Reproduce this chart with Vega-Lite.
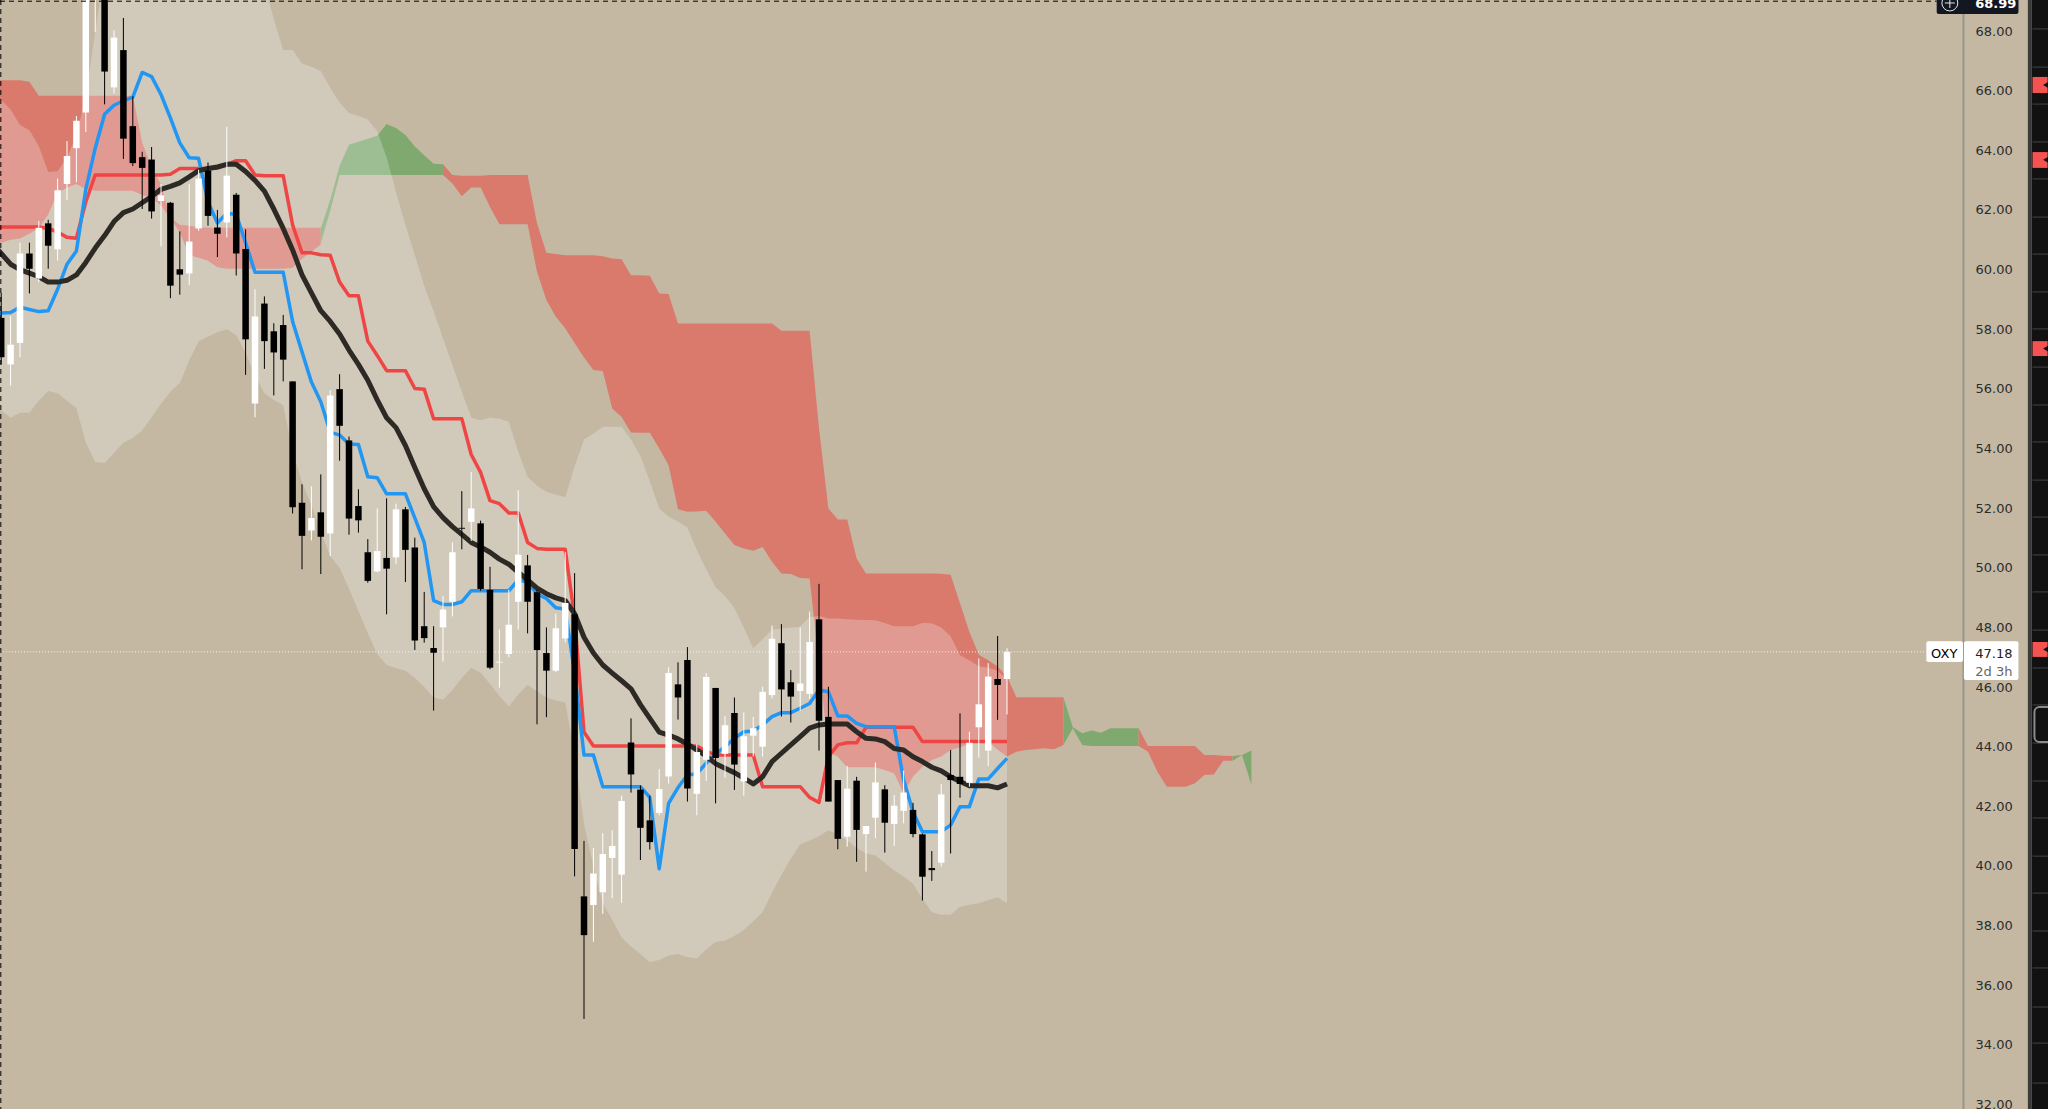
{"$schema":"https://vega.github.io/schema/vega-lite/v6.json","width":1963,"height":1109,"autosize":{"type":"none"},"padding":{"left":0,"top":0,"right":85,"bottom":0},"background":"#c4b8a3","config":{"view":{"stroke":null},"scale":{"continuousPadding":0}},
"resolve":{"axis":{"y":"independent"}},
"datasets":{
"bars":[
{"bar":-3,"open":null,"high":null,"low":null,"close":null,"dir":"down","tenkan":58.5,"kijun":61.43,"ma":60.9,"upper":65.9,"lower":55.4},
{"bar":-2,"dir":"down","open":58.38,"high":59.22,"low":56.82,"close":57.06,"tenkan":58.54,"kijun":61.43,"ma":60.54,"upper":65.69,"lower":55.27},
{"bar":-1,"dir":"up","open":56.82,"high":58.44,"low":56.11,"close":57.48,"tenkan":58.56,"kijun":61.43,"ma":60.18,"upper":65.37,"lower":55.03},
{"bar":0,"dir":"up","open":57.54,"high":60.9,"low":57.06,"close":60.54,"tenkan":58.74,"kijun":61.43,"ma":60.0,"upper":64.85,"lower":55.2},
{"bar":1,"dir":"down","open":60.54,"high":60.9,"low":59.2,"close":60.03,"tenkan":58.66,"kijun":61.43,"ma":59.88,"upper":64.67,"lower":55.2},
{"bar":2,"dir":"up","open":59.7,"high":61.63,"low":59.58,"close":61.4,"tenkan":58.59,"kijun":61.43,"ma":59.76,"upper":64.14,"lower":55.6},
{"bar":3,"dir":"down","open":61.55,"high":61.67,"low":60.03,"close":60.8,"tenkan":58.62,"kijun":61.38,"ma":59.58,"upper":63.27,"lower":55.93},
{"bar":4,"dir":"up","open":60.68,"high":63.05,"low":60.3,"close":62.66,"tenkan":59.34,"kijun":61.26,"ma":59.58,"upper":63.3,"lower":55.85},
{"bar":5,"dir":"up","open":62.87,"high":64.31,"low":62.33,"close":63.81,"tenkan":60.18,"kijun":61.08,"ma":59.64,"upper":63.77,"lower":55.6},
{"bar":6,"dir":"up","open":64.07,"high":65.15,"low":62.93,"close":64.99,"tenkan":60.62,"kijun":61.05,"ma":59.82,"upper":64.5,"lower":55.35},
{"bar":7,"dir":"up","open":65.27,"high":71,"low":64.61,"close":70,"tenkan":62.69,"kijun":62.27,"ma":60.24,"upper":65.8,"lower":54.2},
{"bar":8,"dir":"up","open":69.3,"high":70.8,"low":67.96,"close":70.3,"tenkan":64.07,"kijun":63.17,"ma":60.72,"upper":67.96,"lower":53.55},
{"bar":9,"dir":"down","open":70.3,"high":71,"low":65.54,"close":66.64,"tenkan":65.21,"kijun":63.17,"ma":61.14,"upper":70,"lower":53.51},
{"bar":10,"dir":"up","open":66.11,"high":68.02,"low":65.9,"close":67.78,"tenkan":65.51,"kijun":63.17,"ma":61.61,"upper":71,"lower":53.85},
{"bar":11,"dir":"down","open":67.36,"high":68.44,"low":63.71,"close":64.39,"tenkan":65.66,"kijun":63.17,"ma":61.91,"upper":72,"lower":54.19},
{"bar":12,"dir":"down","open":64.81,"high":65.81,"low":63.47,"close":63.57,"tenkan":65.78,"kijun":63.17,"ma":62.03,"upper":72,"lower":54.35},
{"bar":13,"dir":"down","open":63.77,"high":63.95,"low":62.03,"close":63.41,"tenkan":66.61,"kijun":63.17,"ma":62.24,"upper":72,"lower":54.6},
{"bar":14,"dir":"down","open":63.69,"high":64.11,"low":61.71,"close":61.95,"tenkan":66.47,"kijun":63.17,"ma":62.45,"upper":72,"lower":55.05},
{"bar":15,"dir":"up","open":62.3,"high":62.87,"low":60.78,"close":62.49,"tenkan":65.87,"kijun":63.17,"ma":62.69,"upper":72,"lower":55.5},
{"bar":16,"dir":"down","open":62.24,"high":62.27,"low":59.04,"close":59.46,"tenkan":65.09,"kijun":63.2,"ma":62.79,"upper":72,"lower":55.9},
{"bar":17,"dir":"down","open":60.01,"high":61.28,"low":59.16,"close":59.83,"tenkan":64.25,"kijun":63.39,"ma":62.91,"upper":72,"lower":56.2},
{"bar":18,"dir":"up","open":59.87,"high":62.87,"low":59.48,"close":60.94,"tenkan":63.75,"kijun":63.39,"ma":63.11,"upper":72,"lower":56.95},
{"bar":19,"dir":"up","open":61.38,"high":63.35,"low":61.3,"close":63.05,"tenkan":63.73,"kijun":63.39,"ma":63.32,"upper":72,"lower":57.6},
{"bar":20,"dir":"down","open":63.32,"high":63.59,"low":61.47,"close":61.8,"tenkan":62.27,"kijun":63.39,"ma":63.39,"upper":72,"lower":57.75},
{"bar":21,"dir":"down","open":61.41,"high":62,"low":60.42,"close":61.2,"tenkan":61.56,"kijun":63.41,"ma":63.44,"upper":72,"lower":57.9},
{"bar":22,"dir":"up","open":61.58,"high":64.79,"low":61.08,"close":63.15,"tenkan":61.89,"kijun":63.53,"ma":63.53,"upper":72,"lower":58},
{"bar":23,"dir":"down","open":62.51,"high":62.57,"low":59.8,"close":60.54,"tenkan":61.85,"kijun":63.65,"ma":63.53,"upper":72,"lower":57.8},
{"bar":24,"dir":"down","open":60.69,"high":61.35,"low":56.47,"close":57.66,"tenkan":60.9,"kijun":63.65,"ma":63.29,"upper":72,"lower":57.2},
{"bar":25,"dir":"up","open":55.51,"high":59.34,"low":55.05,"close":58.43,"tenkan":59.91,"kijun":63.17,"ma":62.99,"upper":72,"lower":56.45},
{"bar":26,"dir":"down","open":58.86,"high":59.1,"low":56.67,"close":57.6,"tenkan":59.91,"kijun":63.15,"ma":62.63,"upper":69.6,"lower":55.85},
{"bar":27,"dir":"down","open":57.93,"high":58.2,"low":55.78,"close":57.22,"tenkan":59.91,"kijun":63.15,"ma":62.03,"upper":68.4,"lower":55.63},
{"bar":28,"dir":"down","open":58.14,"high":58.48,"low":56.25,"close":56.98,"tenkan":59.91,"kijun":63.15,"ma":61.38,"upper":67.36,"lower":55.45},
{"bar":29,"dir":"down","open":56.25,"high":56.25,"low":51.82,"close":52.03,"tenkan":58.26,"kijun":61.5,"ma":60.66,"upper":67.36,"lower":53.9},
{"bar":30,"dir":"down","open":52.18,"high":52.8,"low":49.95,"close":51.07,"tenkan":57.24,"kijun":60.56,"ma":59.82,"upper":66.91,"lower":52.87},
{"bar":31,"dir":"up","open":51.25,"high":52.73,"low":50.92,"close":51.67,"tenkan":56.23,"kijun":60.56,"ma":59.22,"upper":66.8,"lower":52.1},
{"bar":32,"dir":"down","open":51.86,"high":53.13,"low":49.79,"close":51.04,"tenkan":55.57,"kijun":60.5,"ma":58.62,"upper":66.66,"lower":51.2},
{"bar":33,"dir":"up","open":51.15,"high":55.95,"low":50.39,"close":55.78,"tenkan":54.55,"kijun":60.48,"ma":58.26,"upper":66.1,"lower":50.39},
{"bar":34,"dir":"down","open":55.99,"high":56.49,"low":53.59,"close":54.76,"tenkan":54.45,"kijun":59.58,"ma":57.84,"upper":65.6,"lower":50.0},
{"bar":35,"dir":"down","open":54.27,"high":54.4,"low":51.11,"close":51.65,"tenkan":54.15,"kijun":59.12,"ma":57.3,"upper":65.25,"lower":49.3},
{"bar":36,"dir":"down","open":52.07,"high":52.63,"low":51.18,"close":51.59,"tenkan":54.13,"kijun":59.12,"ma":56.82,"upper":65.15,"lower":48.55},
{"bar":37,"dir":"down","open":50.52,"high":50.96,"low":49.5,"close":49.56,"tenkan":53.05,"kijun":57.6,"ma":56.29,"upper":65.03,"lower":47.8},
{"bar":38,"dir":"up","open":49.88,"high":51.99,"low":49.85,"close":50.56,"tenkan":53.02,"kijun":57.12,"ma":55.63,"upper":64.65,"lower":47.1},
{"bar":39,"dir":"down","open":50.33,"high":52.33,"low":48.44,"close":49.97,"tenkan":52.48,"kijun":56.61,"ma":55.03,"upper":63.77,"lower":46.74},
{"bar":40,"dir":"up","open":50.35,"high":52.15,"low":50.12,"close":51.96,"tenkan":52.48,"kijun":56.61,"ma":54.7,"upper":62.6,"lower":46.63},
{"bar":41,"dir":"down","open":51.96,"high":52.04,"low":49.52,"close":50.6,"tenkan":52.48,"kijun":56.61,"ma":54.1,"upper":61.5,"lower":46.55},
{"bar":42,"dir":"down","open":50.68,"high":51.01,"low":47.24,"close":47.56,"tenkan":51.67,"kijun":56.01,"ma":53.36,"upper":60.5,"lower":46.3},
{"bar":43,"dir":"down","open":48.04,"high":49.19,"low":47.49,"close":47.64,"tenkan":50.85,"kijun":55.99,"ma":52.65,"upper":59.46,"lower":46.0},
{"bar":44,"dir":"down","open":47.31,"high":48.04,"low":45.21,"close":47.15,"tenkan":48.9,"kijun":55.0,"ma":52.05,"upper":58.6,"lower":45.65},
{"bar":45,"dir":"up","open":48.0,"high":49.06,"low":46.85,"close":48.6,"tenkan":48.77,"kijun":55.0,"ma":51.68,"upper":57.7,"lower":45.57},
{"bar":46,"dir":"up","open":48.86,"high":50.85,"low":48.37,"close":50.52,"tenkan":48.77,"kijun":55.0,"ma":51.38,"upper":56.8,"lower":45.9},
{"bar":47,"dir":"down","open":51.34,"high":52.57,"low":50.62,"close":51.31,"tenkan":48.86,"kijun":55.0,"ma":51.12,"upper":55.9,"lower":46.3},
{"bar":48,"dir":"up","open":51.54,"high":53.21,"low":50.9,"close":51.99,"tenkan":49.23,"kijun":53.8,"ma":50.85,"upper":55.04,"lower":46.65},
{"bar":49,"dir":"down","open":51.49,"high":51.58,"low":49.23,"close":49.29,"tenkan":49.23,"kijun":53.2,"ma":50.7,"upper":54.95,"lower":46.48},
{"bar":50,"dir":"down","open":49.26,"high":50.03,"low":46.6,"close":46.65,"tenkan":49.23,"kijun":52.25,"ma":50.52,"upper":55.04,"lower":46.1},
{"bar":51,"dir":"up","open":46.82,"high":47.93,"low":45.98,"close":46.85,"tenkan":49.23,"kijun":52.15,"ma":50.29,"upper":55.0,"lower":45.7},
{"bar":52,"dir":"up","open":47.11,"high":49.26,"low":47.0,"close":48.09,"tenkan":49.23,"kijun":51.84,"ma":50.12,"upper":54.9,"lower":45.35},
{"bar":53,"dir":"up","open":48.86,"high":52.6,"low":47.93,"close":50.44,"tenkan":49.59,"kijun":51.84,"ma":49.85,"upper":53.9,"lower":45.75},
{"bar":54,"dir":"down","open":50.08,"high":50.43,"low":47.8,"close":48.86,"tenkan":49.52,"kijun":50.85,"ma":49.59,"upper":53.05,"lower":46.08},
{"bar":55,"dir":"down","open":49.18,"high":49.26,"low":44.75,"close":47.24,"tenkan":49.12,"kijun":50.65,"ma":49.32,"upper":52.75,"lower":45.85},
{"bar":56,"dir":"down","open":47.14,"high":48.0,"low":44.99,"close":46.55,"tenkan":48.97,"kijun":50.62,"ma":49.13,"upper":52.55,"lower":45.65},
{"bar":57,"dir":"up","open":46.55,"high":48.46,"low":46.5,"close":47.97,"tenkan":48.66,"kijun":50.62,"ma":48.99,"upper":52.45,"lower":45.55},
{"bar":58,"dir":"up","open":47.63,"high":50.52,"low":47.5,"close":48.82,"tenkan":48.62,"kijun":50.62,"ma":48.9,"upper":52.37,"lower":45.48},
{"bar":59,"dir":"down","open":48.44,"high":49.82,"low":39.65,"close":40.57,"tenkan":46.47,"kijun":48.33,"ma":48.46,"upper":53.4,"lower":43.8},
{"bar":60,"dir":"down","open":38.98,"high":40.84,"low":34.87,"close":37.68,"tenkan":43.72,"kijun":44.49,"ma":47.67,"upper":54.3,"lower":41.4},
{"bar":61,"dir":"up","open":38.69,"high":40.61,"low":37.46,"close":39.75,"tenkan":43.72,"kijun":44.02,"ma":47.14,"upper":54.5,"lower":40.0},
{"bar":62,"dir":"up","open":39.12,"high":41.1,"low":38.39,"close":40.4,"tenkan":42.66,"kijun":44.02,"ma":46.74,"upper":54.73,"lower":38.75},
{"bar":63,"dir":"up","open":40.27,"high":41.2,"low":38.92,"close":40.67,"tenkan":42.66,"kijun":44.02,"ma":46.47,"upper":54.73,"lower":38.2},
{"bar":64,"dir":"up","open":39.71,"high":42.36,"low":38.76,"close":42.18,"tenkan":42.66,"kijun":44.02,"ma":46.21,"upper":54.73,"lower":37.6},
{"bar":65,"dir":"down","open":44.14,"high":44.95,"low":42.46,"close":43.07,"tenkan":42.66,"kijun":44.02,"ma":45.94,"upper":54.3,"lower":37.3},
{"bar":66,"dir":"down","open":42.56,"high":42.7,"low":40.2,"close":41.28,"tenkan":42.66,"kijun":44.02,"ma":45.41,"upper":53.75,"lower":37.05},
{"bar":67,"dir":"down","open":41.53,"high":42.36,"low":40.55,"close":40.8,"tenkan":42.3,"kijun":44.02,"ma":44.95,"upper":52.9,"lower":36.77},
{"bar":68,"dir":"up","open":41.78,"high":43.25,"low":41.7,"close":42.58,"tenkan":39.91,"kijun":44.02,"ma":44.49,"upper":52.0,"lower":36.85},
{"bar":69,"dir":"up","open":43.0,"high":46.67,"low":42.76,"close":46.47,"tenkan":42.1,"kijun":44.02,"ma":44.39,"upper":51.72,"lower":37.0},
{"bar":70,"dir":"down","open":46.09,"high":46.83,"low":44.91,"close":45.65,"tenkan":42.63,"kijun":44.02,"ma":44.26,"upper":51.55,"lower":37.05},
{"bar":71,"dir":"down","open":46.91,"high":47.34,"low":42.16,"close":42.6,"tenkan":43.05,"kijun":44.02,"ma":44.09,"upper":51.35,"lower":36.95},
{"bar":72,"dir":"up","open":42.42,"high":44.09,"low":41.7,"close":43.82,"tenkan":43.09,"kijun":44.02,"ma":43.89,"upper":50.6,"lower":36.9},
{"bar":73,"dir":"up","open":43.56,"high":46.47,"low":42.85,"close":46.34,"tenkan":43.45,"kijun":43.85,"ma":43.69,"upper":49.95,"lower":37.2},
{"bar":74,"dir":"down","open":45.97,"high":45.97,"low":42.1,"close":43.62,"tenkan":43.75,"kijun":43.72,"ma":43.43,"upper":49.35,"lower":37.45},
{"bar":75,"dir":"up","open":43.76,"high":45.02,"low":42.96,"close":44.72,"tenkan":44.0,"kijun":43.72,"ma":43.28,"upper":49.05,"lower":37.5},
{"bar":76,"dir":"down","open":45.13,"high":45.65,"low":42.55,"close":43.4,"tenkan":44.28,"kijun":43.72,"ma":43.13,"upper":48.65,"lower":37.65},
{"bar":77,"dir":"up","open":42.83,"high":45.15,"low":42.36,"close":44.35,"tenkan":44.5,"kijun":43.72,"ma":42.95,"upper":48.0,"lower":37.85},
{"bar":78,"dir":"up","open":44.37,"high":45.0,"low":43.67,"close":44.62,"tenkan":44.53,"kijun":43.72,"ma":42.75,"upper":47.3,"lower":38.15},
{"bar":79,"dir":"up","open":44.0,"high":46.01,"low":43.67,"close":45.84,"tenkan":44.73,"kijun":42.66,"ma":42.99,"upper":47.6,"lower":38.45},
{"bar":80,"dir":"up","open":45.73,"high":48.06,"low":45.62,"close":47.62,"tenkan":45.01,"kijun":42.66,"ma":43.5,"upper":47.93,"lower":39.1},
{"bar":81,"dir":"down","open":47.47,"high":48.11,"low":45.01,"close":45.92,"tenkan":45.14,"kijun":42.66,"ma":43.78,"upper":47.96,"lower":39.7},
{"bar":82,"dir":"down","open":46.16,"high":46.57,"low":44.81,"close":45.68,"tenkan":45.14,"kijun":42.66,"ma":44.06,"upper":48.0,"lower":40.25},
{"bar":83,"dir":"up","open":45.87,"high":48.0,"low":45.2,"close":46.12,"tenkan":45.29,"kijun":42.66,"ma":44.34,"upper":48.02,"lower":40.72},
{"bar":84,"dir":"up","open":45.77,"high":48.53,"low":45.6,"close":47.51,"tenkan":45.45,"kijun":42.3,"ma":44.62,"upper":48.35,"lower":40.85},
{"bar":85,"dir":"down","open":48.27,"high":49.46,"low":43.87,"close":44.87,"tenkan":45.9,"kijun":42.13,"ma":44.73,"upper":48.38,"lower":41.0},
{"bar":86,"dir":"down","open":45.0,"high":46.01,"low":42.16,"close":42.16,"tenkan":45.84,"kijun":43.67,"ma":44.76,"upper":48.3,"lower":41.2},
{"bar":87,"dir":"down","open":42.88,"high":42.88,"low":40.56,"close":40.91,"tenkan":45.03,"kijun":44.06,"ma":44.76,"upper":48.3,"lower":41.05},
{"bar":88,"dir":"up","open":40.98,"high":43.35,"low":40.65,"close":42.59,"tenkan":45.03,"kijun":44.13,"ma":44.76,"upper":48.27,"lower":40.85},
{"bar":89,"dir":"down","open":42.86,"high":42.99,"low":40.14,"close":41.21,"tenkan":44.78,"kijun":44.13,"ma":44.5,"upper":48.26,"lower":40.6},
{"bar":90,"dir":"up","open":41.07,"high":41.34,"low":39.81,"close":41.34,"tenkan":44.67,"kijun":44.65,"ma":44.28,"upper":48.25,"lower":40.42},
{"bar":91,"dir":"up","open":41.62,"high":43.47,"low":40.93,"close":42.8,"tenkan":44.67,"kijun":44.65,"ma":44.26,"upper":48.24,"lower":40.35},
{"bar":92,"dir":"down","open":42.57,"high":42.71,"low":40.45,"close":41.45,"tenkan":44.67,"kijun":44.65,"ma":44.17,"upper":48.15,"lower":40.1},
{"bar":93,"dir":"up","open":41.41,"high":42.38,"low":40.67,"close":42.02,"tenkan":44.67,"kijun":44.65,"ma":43.94,"upper":48.04,"lower":39.85},
{"bar":94,"dir":"up","open":41.85,"high":43.2,"low":41.43,"close":42.46,"tenkan":42.88,"kijun":44.65,"ma":43.89,"upper":48.04,"lower":39.65},
{"bar":95,"dir":"down","open":41.88,"high":42.12,"low":40.96,"close":41.07,"tenkan":41.82,"kijun":44.65,"ma":43.66,"upper":48.04,"lower":39.4},
{"bar":96,"dir":"down","open":41.06,"high":41.09,"low":38.84,"close":39.64,"tenkan":41.15,"kijun":44.17,"ma":43.5,"upper":48.15,"lower":38.9},
{"bar":97,"dir":"down","open":39.93,"high":40.5,"low":39.5,"close":39.86,"tenkan":41.15,"kijun":44.17,"ma":43.31,"upper":48.14,"lower":38.45},
{"bar":98,"dir":"up","open":40.11,"high":42.75,"low":39.98,"close":42.4,"tenkan":41.15,"kijun":44.17,"ma":43.19,"upper":48.0,"lower":38.36},
{"bar":99,"dir":"down","open":43.05,"high":43.89,"low":40.42,"close":42.88,"tenkan":41.37,"kijun":44.17,"ma":42.99,"upper":47.7,"lower":38.36},
{"bar":100,"dir":"down","open":42.99,"high":45.12,"low":42.29,"close":42.75,"tenkan":41.99,"kijun":44.17,"ma":42.83,"upper":47.07,"lower":38.63},
{"bar":101,"dir":"up","open":42.79,"high":44.5,"low":42.66,"close":44.13,"tenkan":41.99,"kijun":44.17,"ma":42.69,"upper":46.9,"lower":38.7},
{"bar":102,"dir":"up","open":44.65,"high":46.96,"low":43.63,"close":45.42,"tenkan":42.92,"kijun":44.17,"ma":42.69,"upper":46.7,"lower":38.75},
{"bar":103,"dir":"up","open":43.87,"high":46.8,"low":43.35,"close":46.35,"tenkan":42.92,"kijun":44.17,"ma":42.69,"upper":46.65,"lower":38.85},
{"bar":104,"dir":"down","open":46.27,"high":47.71,"low":44.9,"close":46.07,"tenkan":43.27,"kijun":44.17,"ma":42.62,"upper":46.55,"lower":38.95},
{"bar":105,"dir":"up","open":46.27,"high":47.3,"low":45.08,"close":47.18,"tenkan":43.61,"kijun":44.17,"ma":42.75,"upper":46.24,"lower":38.75}
],
"kumo":[
{"bar":-3,"seg":1,"kind":"red","top":66.35,"bottom":60.85},{"bar":-2,"seg":1,"kind":"red","top":66.35,"bottom":60.9},{"bar":-1,"seg":1,"kind":"red","top":66.35,"bottom":61.0},{"bar":0,"seg":1,"kind":"red","top":66.35,"bottom":61.04},{"bar":1,"seg":1,"kind":"red","top":66.3,"bottom":61.2},{"bar":2,"seg":1,"kind":"red","top":65.83,"bottom":61.4},{"bar":3,"seg":1,"kind":"red","top":65.83,"bottom":61.85},{"bar":4,"seg":1,"kind":"red","top":65.83,"bottom":62.57},{"bar":5,"seg":1,"kind":"red","top":65.83,"bottom":62.75},{"bar":6,"seg":1,"kind":"red","top":65.83,"bottom":62.87},{"bar":7,"seg":1,"kind":"red","top":65.83,"bottom":62.7},{"bar":8,"seg":1,"kind":"red","top":65.83,"bottom":62.64},{"bar":9,"seg":1,"kind":"red","top":65.83,"bottom":62.64},{"bar":10,"seg":1,"kind":"red","top":65.83,"bottom":62.64},{"bar":11,"seg":1,"kind":"red","top":65.83,"bottom":62.64},{"bar":12,"seg":1,"kind":"red","top":65.83,"bottom":62.64},{"bar":13,"seg":1,"kind":"red","top":64.25,"bottom":62.5},{"bar":14,"seg":1,"kind":"red","top":63.41,"bottom":62.4},{"bar":15,"seg":1,"kind":"red","top":62.85,"bottom":62.15},{"bar":16,"seg":1,"kind":"red","top":61.73,"bottom":61.73},{"bar":17,"seg":1,"kind":"red","top":61.5,"bottom":61.25},{"bar":18,"seg":1,"kind":"red","top":61.47,"bottom":60.48},{"bar":19,"seg":1,"kind":"red","top":61.42,"bottom":60.4},{"bar":20,"seg":1,"kind":"red","top":61.4,"bottom":60.3},{"bar":21,"seg":1,"kind":"red","top":61.4,"bottom":60.08},{"bar":22,"seg":1,"kind":"red","top":61.4,"bottom":60.03},{"bar":23,"seg":1,"kind":"red","top":61.4,"bottom":60.03},{"bar":24,"seg":1,"kind":"red","top":61.4,"bottom":60.03},{"bar":25,"seg":1,"kind":"red","top":61.4,"bottom":60.03},{"bar":26,"seg":1,"kind":"red","top":61.4,"bottom":60.03},{"bar":27,"seg":1,"kind":"red","top":61.4,"bottom":60.03},{"bar":28,"seg":1,"kind":"red","top":61.4,"bottom":60.03},{"bar":29,"seg":1,"kind":"red","top":61.4,"bottom":60.06},{"bar":30,"seg":1,"kind":"red","top":61.4,"bottom":60.36},{"bar":31,"seg":1,"kind":"red","top":61.4,"bottom":60.6},{"bar":32,"seg":1,"kind":"red","top":61.4,"bottom":60.84},
{"bar":32,"seg":2,"kind":"green","top":61.38,"bottom":60.9},{"bar":33,"seg":2,"kind":"green","top":62.33,"bottom":61.97},{"bar":34,"seg":2,"kind":"green","top":63.47,"bottom":63.17},{"bar":35,"seg":2,"kind":"green","top":64.19,"bottom":63.17},{"bar":36,"seg":2,"kind":"green","top":64.29,"bottom":63.17},{"bar":37,"seg":2,"kind":"green","top":64.39,"bottom":63.17},{"bar":38,"seg":2,"kind":"green","top":64.49,"bottom":63.17},{"bar":39,"seg":2,"kind":"green","top":64.88,"bottom":63.17},{"bar":40,"seg":2,"kind":"green","top":64.75,"bottom":63.17},{"bar":41,"seg":2,"kind":"green","top":64.51,"bottom":63.17},{"bar":42,"seg":2,"kind":"green","top":64.13,"bottom":63.17},{"bar":43,"seg":2,"kind":"green","top":63.83,"bottom":63.17},{"bar":44,"seg":2,"kind":"green","top":63.55,"bottom":63.17},{"bar":45,"seg":2,"kind":"green","top":63.53,"bottom":63.17},
{"bar":45,"seg":3,"kind":"red","top":63.53,"bottom":63.17},{"bar":46,"seg":3,"kind":"red","top":63.17,"bottom":62.89},{"bar":47,"seg":3,"kind":"red","top":63.15,"bottom":62.46},{"bar":48,"seg":3,"kind":"red","top":63.15,"bottom":62.75},{"bar":49,"seg":3,"kind":"red","top":63.15,"bottom":62.75},{"bar":50,"seg":3,"kind":"red","top":63.17,"bottom":62.1},{"bar":51,"seg":3,"kind":"red","top":63.17,"bottom":61.52},{"bar":52,"seg":3,"kind":"red","top":63.17,"bottom":61.52},{"bar":53,"seg":3,"kind":"red","top":63.17,"bottom":61.52},{"bar":54,"seg":3,"kind":"red","top":63.17,"bottom":61.52},{"bar":55,"seg":3,"kind":"red","top":61.55,"bottom":59.93},{"bar":56,"seg":3,"kind":"red","top":60.56,"bottom":58.98},{"bar":57,"seg":3,"kind":"red","top":60.52,"bottom":58.42},{"bar":58,"seg":3,"kind":"red","top":60.48,"bottom":58.03},{"bar":59,"seg":3,"kind":"red","top":60.48,"bottom":57.54},{"bar":60,"seg":3,"kind":"red","top":60.48,"bottom":57.05},{"bar":61,"seg":3,"kind":"red","top":60.48,"bottom":56.63},{"bar":62,"seg":3,"kind":"red","top":60.45,"bottom":56.6},{"bar":63,"seg":3,"kind":"red","top":60.37,"bottom":55.34},{"bar":64,"seg":3,"kind":"red","top":60.35,"bottom":55.06},{"bar":65,"seg":3,"kind":"red","top":59.81,"bottom":54.54},{"bar":66,"seg":3,"kind":"red","top":59.81,"bottom":54.53},{"bar":67,"seg":3,"kind":"red","top":59.79,"bottom":54.53},{"bar":68,"seg":3,"kind":"red","top":59.2,"bottom":54.0},{"bar":69,"seg":3,"kind":"red","top":59.18,"bottom":53.44},{"bar":70,"seg":3,"kind":"red","top":58.19,"bottom":51.96},{"bar":71,"seg":3,"kind":"red","top":58.19,"bottom":51.88},{"bar":72,"seg":3,"kind":"red","top":58.19,"bottom":51.89},{"bar":73,"seg":3,"kind":"red","top":58.19,"bottom":51.91},{"bar":74,"seg":3,"kind":"red","top":58.19,"bottom":51.54},{"bar":75,"seg":3,"kind":"red","top":58.19,"bottom":51.15},{"bar":76,"seg":3,"kind":"red","top":58.19,"bottom":50.76},{"bar":77,"seg":3,"kind":"red","top":58.19,"bottom":50.65},{"bar":78,"seg":3,"kind":"red","top":58.19,"bottom":50.57},{"bar":79,"seg":3,"kind":"red","top":58.19,"bottom":50.7},{"bar":80,"seg":3,"kind":"red","top":58.19,"bottom":50.2},{"bar":81,"seg":3,"kind":"red","top":57.95,"bottom":49.81},{"bar":82,"seg":3,"kind":"red","top":57.95,"bottom":49.79},{"bar":83,"seg":3,"kind":"red","top":57.95,"bottom":49.66},{"bar":84,"seg":3,"kind":"red","top":57.95,"bottom":49.64},{"bar":85,"seg":3,"kind":"red","top":54.68,"bottom":46.8},{"bar":86,"seg":3,"kind":"red","top":51.99,"bottom":43.83},{"bar":87,"seg":3,"kind":"red","top":51.62,"bottom":43.66},{"bar":88,"seg":3,"kind":"red","top":51.62,"bottom":43.31},{"bar":89,"seg":3,"kind":"red","top":50.31,"bottom":43.31},{"bar":90,"seg":3,"kind":"red","top":49.81,"bottom":43.31},{"bar":91,"seg":3,"kind":"red","top":49.81,"bottom":43.31},{"bar":92,"seg":3,"kind":"red","top":49.81,"bottom":43.22},{"bar":93,"seg":3,"kind":"red","top":49.81,"bottom":43.1},{"bar":94,"seg":3,"kind":"red","top":49.81,"bottom":42.44},{"bar":95,"seg":3,"kind":"red","top":49.81,"bottom":43.0},{"bar":96,"seg":3,"kind":"red","top":49.81,"bottom":43.33},{"bar":97,"seg":3,"kind":"red","top":49.81,"bottom":43.55},{"bar":98,"seg":3,"kind":"red","top":49.8,"bottom":43.67},{"bar":99,"seg":3,"kind":"red","top":49.77,"bottom":43.89},{"bar":100,"seg":3,"kind":"red","top":48.81,"bottom":43.98},{"bar":101,"seg":3,"kind":"red","top":47.85,"bottom":44.1},{"bar":102,"seg":3,"kind":"red","top":47.08,"bottom":44.15},{"bar":103,"seg":3,"kind":"red","top":46.9,"bottom":44.17},{"bar":104,"seg":3,"kind":"red","top":46.69,"bottom":43.9},{"bar":105,"seg":3,"kind":"red","top":46.35,"bottom":43.67},{"bar":106,"seg":3,"kind":"red","top":45.66,"bottom":43.83},{"bar":107,"seg":3,"kind":"red","top":45.66,"bottom":43.89},{"bar":108,"seg":3,"kind":"red","top":45.66,"bottom":43.91},{"bar":109,"seg":3,"kind":"red","top":45.66,"bottom":43.95},{"bar":110,"seg":3,"kind":"red","top":45.66,"bottom":43.91},{"bar":111,"seg":3,"kind":"red","top":45.66,"bottom":44.06},
{"bar":111,"seg":4,"kind":"green","top":45.66,"bottom":44.06},{"bar":112,"seg":4,"kind":"green","top":44.65,"bottom":44.62},{"bar":113,"seg":4,"kind":"green","top":44.45,"bottom":44.06},{"bar":114,"seg":4,"kind":"green","top":44.54,"bottom":44.02},{"bar":115,"seg":4,"kind":"green","top":44.47,"bottom":44.02},{"bar":116,"seg":4,"kind":"green","top":44.62,"bottom":44.02},{"bar":117,"seg":4,"kind":"green","top":44.62,"bottom":44.02},{"bar":118,"seg":4,"kind":"green","top":44.62,"bottom":44.02},{"bar":119,"seg":4,"kind":"green","top":44.62,"bottom":44.02},
{"bar":119,"seg":5,"kind":"red","top":44.62,"bottom":44.02},{"bar":120,"seg":5,"kind":"red","top":44.02,"bottom":43.83},{"bar":121,"seg":5,"kind":"red","top":44.02,"bottom":43.16},{"bar":122,"seg":5,"kind":"red","top":44.02,"bottom":42.66},{"bar":123,"seg":5,"kind":"red","top":44.02,"bottom":42.66},{"bar":124,"seg":5,"kind":"red","top":44.02,"bottom":42.66},{"bar":125,"seg":5,"kind":"red","top":44.02,"bottom":42.77},{"bar":126,"seg":5,"kind":"red","top":43.72,"bottom":43.05},{"bar":127,"seg":5,"kind":"red","top":43.72,"bottom":43.07},{"bar":128,"seg":5,"kind":"red","top":43.7,"bottom":43.53},{"bar":129,"seg":5,"kind":"red","top":43.69,"bottom":43.53},
{"bar":129,"seg":6,"kind":"green","top":43.69,"bottom":43.53},{"bar":130,"seg":6,"kind":"green","top":43.72,"bottom":43.72},{"bar":131,"seg":6,"kind":"green","top":43.87,"bottom":42.72}
],
"panelticks":[{"price":68.07},{"price":66.79},{"price":65.55},{"price":64.28},{"price":63.04},{"price":61.76},{"price":60.52},{"price":59.25},{"price":58.01},{"price":56.73},{"price":55.46},{"price":54.22},{"price":52.94},{"price":51.7},{"price":50.43},{"price":49.19},{"price":47.91},{"price":46.64},{"price":45.4},{"price":44.12},{"price":42.85},{"price":41.61},{"price":40.33},{"price":39.09},{"price":37.82},{"price":36.58},{"price":35.27},{"price":34.06},{"price":32.72}],
"flags":[{"hi":66.46,"lo":65.92,"mid":66.19},{"hi":63.94,"lo":63.41,"mid":63.68},{"hi":57.6,"lo":57.1,"mid":57.35},{"hi":47.51,"lo":47.01,"mid":47.26}],
"boxes":[{"x1":213.6,"x2":214.0,"hi":70,"lo":31,"fill":"#3a3a38"},{"x1":214.0,"x2":216,"hi":70,"lo":31,"fill":"#111111"},{"x1":203.9,"x2":212.6,"hi":69.6,"lo":68.57,"fill":"#131722"},{"x1":202.8,"x2":206.7,"hi":47.54,"lo":46.84,"fill":"#ffffff"},{"x1":206.8,"x2":212.6,"hi":47.54,"lo":46.24,"fill":"#ffffff"}]
},
"layer":[
{"data":{"name":"kumo"},"mark":{"type":"area","clip":true,"opacity":1,"interpolate":"linear"},"encoding":{"x":{"field":"bar","type":"quantitative","scale":{"domain":[-2.128,206.7],"nice":false,"zero":false},"axis":null},"y":{"field":"top","type":"quantitative","stack":null,"scale":{"domain":[31.85,69.04],"nice":false,"zero":false},"axis":{"orient":"right","values":[32,34,36,38,40,42,44,46,48,50,52,54,56,58,60,62,64,66,68],"format":".2f","title":null,"grid":false,"ticks":false,"domain":true,"domainColor":"#97948a","domainWidth":2,"labelPadding":12,"labelFont":"DejaVu Sans","labelFontSize":13,"labelColor":"#2c2c2c","labelBound":false,"labelOverlap":false,"labelFlush":false}},"y2":{"field":"bottom"},"detail":{"field":"seg"},"color":{"field":"kind","type":"nominal","scale":{"domain":["red","green","down","up"],"range":["#da7a6c","#7fa96f","#000000","#ffffff"]},"legend":null}}},
{"data":{"name":"bars"},"mark":{"type":"area","clip":true,"color":"#f8fbff","opacity":0.25},"encoding":{"x":{"field":"bar","type":"quantitative","scale":{"domain":[-2.128,206.7],"nice":false,"zero":false},"axis":null},"y":{"field":"upper","type":"quantitative","stack":null,"scale":{"domain":[31.85,69.04],"nice":false,"zero":false},"axis":null},"y2":{"field":"lower"}}},
{"data":{"values":[{"x1":-2.128,"x2":202.8,"price":47.18}]},"mark":{"type":"rule","color":"#ffffff","strokeWidth":1,"strokeDash":[1,2],"opacity":0.8},"encoding":{"x":{"field":"x1","type":"quantitative","scale":{"domain":[-2.128,206.7],"nice":false,"zero":false},"axis":null},"x2":{"field":"x2"},"y":{"field":"price","type":"quantitative","scale":{"domain":[31.85,69.04],"nice":false,"zero":false},"axis":null}}},
{"data":{"name":"bars"},"mark":{"type":"line","clip":true,"color":"#f04545","strokeWidth":3.5,"strokeJoin":"round"},"encoding":{"x":{"field":"bar","type":"quantitative","scale":{"domain":[-2.128,206.7],"nice":false,"zero":false},"axis":null},"y":{"field":"kijun","type":"quantitative","scale":{"domain":[31.85,69.04],"nice":false,"zero":false},"axis":null}}},
{"data":{"name":"bars"},"mark":{"type":"line","clip":true,"color":"#2196f3","strokeWidth":3.5,"strokeJoin":"round"},"encoding":{"x":{"field":"bar","type":"quantitative","scale":{"domain":[-2.128,206.7],"nice":false,"zero":false},"axis":null},"y":{"field":"tenkan","type":"quantitative","scale":{"domain":[31.85,69.04],"nice":false,"zero":false},"axis":null}}},
{"data":{"name":"bars"},"mark":{"type":"line","clip":true,"color":"#2d2a25","strokeWidth":5,"strokeJoin":"round"},"encoding":{"x":{"field":"bar","type":"quantitative","scale":{"domain":[-2.128,206.7],"nice":false,"zero":false},"axis":null},"y":{"field":"ma","type":"quantitative","scale":{"domain":[31.85,69.04],"nice":false,"zero":false},"axis":null}}},
{"data":{"name":"bars"},"mark":{"type":"rule","clip":true,"strokeWidth":1},"encoding":{"x":{"field":"bar","type":"quantitative","scale":{"domain":[-2.128,206.7],"nice":false,"zero":false},"axis":null},"y":{"field":"low","type":"quantitative","scale":{"domain":[31.85,69.04],"nice":false,"zero":false},"axis":null},"y2":{"field":"high"},"color":{"field":"dir","type":"nominal","scale":{"domain":["red","green","down","up"],"range":["#da7a6c","#7fa96f","#000000","#ffffff"]},"legend":null}}},
{"data":{"name":"bars"},"mark":{"type":"bar","clip":true,"size":6.5,"orient":"vertical"},"encoding":{"x":{"field":"bar","type":"quantitative","scale":{"domain":[-2.128,206.7],"nice":false,"zero":false},"axis":null},"y":{"field":"open","type":"quantitative","stack":null,"scale":{"domain":[31.85,69.04],"nice":false,"zero":false},"axis":null},"y2":{"field":"close"},"color":{"field":"dir","type":"nominal","scale":{"domain":["red","green","down","up"],"range":["#da7a6c","#7fa96f","#000000","#ffffff"]},"legend":null}}},
{"data":{"values":[{"x1":-2.128,"x2":203.9,"price":69.0}]},"mark":{"type":"rule","color":"#000000","strokeWidth":1,"strokeDash":[5,4]},"encoding":{"x":{"field":"x1","type":"quantitative","scale":{"domain":[-2.128,206.7],"nice":false,"zero":false},"axis":null},"x2":{"field":"x2"},"y":{"field":"price","type":"quantitative","scale":{"domain":[31.85,69.04],"nice":false,"zero":false},"axis":null}}},
{"data":{"values":[{"x":-2.04,"hi":69.04,"lo":31.85}]},"mark":{"type":"rule","color":"#000000","strokeWidth":1,"strokeDash":[5,4]},"encoding":{"x":{"field":"x","type":"quantitative","scale":{"domain":[-2.128,206.7],"nice":false,"zero":false},"axis":null},"y":{"field":"hi","type":"quantitative","scale":{"domain":[31.85,69.04],"nice":false,"zero":false},"axis":null},"y2":{"field":"lo"}}},
{"data":{"name":"boxes"},"mark":{"type":"rect","clip":false,"cornerRadius":2},"encoding":{"x":{"field":"x1","type":"quantitative","scale":{"domain":[-2.128,206.7],"nice":false,"zero":false},"axis":null},"x2":{"field":"x2"},"y":{"field":"hi","type":"quantitative","scale":{"domain":[31.85,69.04],"nice":false,"zero":false},"axis":null},"y2":{"field":"lo"},"fill":{"field":"fill","type":"nominal","scale":null}}},
{"data":{"name":"panelticks"},"mark":{"type":"rule","color":"#444444","strokeWidth":1,"clip":false},"encoding":{"x":{"datum":214.1,"type":"quantitative","scale":{"domain":[-2.128,206.7],"nice":false,"zero":false},"axis":null},"x2":{"datum":216},"y":{"field":"price","type":"quantitative","scale":{"domain":[31.85,69.04],"nice":false,"zero":false},"axis":null}}},
{"data":{"name":"flags"},"mark":{"type":"rect","color":"#f55252","clip":false},"encoding":{"x":{"datum":214.1,"type":"quantitative","scale":{"domain":[-2.128,206.7],"nice":false,"zero":false},"axis":null},"x2":{"datum":215.7},"y":{"field":"hi","type":"quantitative","scale":{"domain":[31.85,69.04],"nice":false,"zero":false},"axis":null},"y2":{"field":"lo"}}},
{"data":{"name":"flags"},"mark":{"type":"point","shape":"triangle-left","filled":true,"color":"#111111","opacity":1,"size":70,"clip":false},"encoding":{"x":{"datum":215.6,"type":"quantitative","scale":{"domain":[-2.128,206.7],"nice":false,"zero":false},"axis":null},"y":{"field":"mid","type":"quantitative","scale":{"domain":[31.85,69.04],"nice":false,"zero":false},"axis":null}}},
{"data":{"values":[{"hi":45.33,"lo":44.16}]},"mark":{"type":"rect","fill":null,"stroke":"#8a8a8a","strokeWidth":2,"cornerRadius":5,"clip":false},"encoding":{"x":{"datum":214.3,"type":"quantitative","scale":{"domain":[-2.128,206.7],"nice":false,"zero":false},"axis":null},"x2":{"datum":217},"y":{"field":"hi","type":"quantitative","scale":{"domain":[31.85,69.04],"nice":false,"zero":false},"axis":null},"y2":{"field":"lo"}}},
{"data":{"values":[{"x":205.3,"y":68.94}]},"mark":{"type":"point","shape":"circle","filled":false,"color":"#e8e8e8","strokeWidth":1,"opacity":1,"size":254,"clip":false},"encoding":{"x":{"field":"x","type":"quantitative","scale":{"domain":[-2.128,206.7],"nice":false,"zero":false},"axis":null},"y":{"field":"y","type":"quantitative","scale":{"domain":[31.85,69.04],"nice":false,"zero":false},"axis":null}}},
{"data":{"values":[{"x":205.3,"y":68.94}]},"mark":{"type":"point","shape":"M-1,0L1,0M0,-1L0,1","filled":false,"color":"#e8e8e8","strokeWidth":1,"opacity":1,"size":100,"clip":false},"encoding":{"x":{"field":"x","type":"quantitative","scale":{"domain":[-2.128,206.7],"nice":false,"zero":false},"axis":null},"y":{"field":"y","type":"quantitative","scale":{"domain":[31.85,69.04],"nice":false,"zero":false},"axis":null}}},
{"data":{"values":[{"x":204.7,"y":46.97,"text":"OXY"}]},"mark":{"type":"text","font":"DejaVu Sans","fontSize":13,"baseline":"alphabetic","align":"center","color":"#000000","clip":false},"encoding":{"x":{"field":"x","type":"quantitative","scale":{"domain":[-2.128,206.7],"nice":false,"zero":false},"axis":null},"y":{"field":"y","type":"quantitative","scale":{"domain":[31.85,69.04],"nice":false,"zero":false},"axis":null},"text":{"field":"text"}}},
{"data":{"values":[{"x":208,"y":46.97,"text":"47.18"}]},"mark":{"type":"text","font":"DejaVu Sans","fontSize":13,"baseline":"alphabetic","align":"left","color":"#222222","clip":false},"encoding":{"x":{"field":"x","type":"quantitative","scale":{"domain":[-2.128,206.7],"nice":false,"zero":false},"axis":null},"y":{"field":"y","type":"quantitative","scale":{"domain":[31.85,69.04],"nice":false,"zero":false},"axis":null},"text":{"field":"text"}}},
{"data":{"values":[{"x":208,"y":46.37,"text":"2d 3h"}]},"mark":{"type":"text","font":"DejaVu Sans","fontSize":13,"baseline":"alphabetic","align":"left","color":"#666666","clip":false},"encoding":{"x":{"field":"x","type":"quantitative","scale":{"domain":[-2.128,206.7],"nice":false,"zero":false},"axis":null},"y":{"field":"y","type":"quantitative","scale":{"domain":[31.85,69.04],"nice":false,"zero":false},"axis":null},"text":{"field":"text"}}},
{"data":{"values":[{"x":208,"y":68.77,"text":"68.99"}]},"mark":{"type":"text","font":"DejaVu Sans","fontSize":13,"fontWeight":"bold","baseline":"alphabetic","align":"left","color":"#ffffff","clip":false},"encoding":{"x":{"field":"x","type":"quantitative","scale":{"domain":[-2.128,206.7],"nice":false,"zero":false},"axis":null},"y":{"field":"y","type":"quantitative","scale":{"domain":[31.85,69.04],"nice":false,"zero":false},"axis":null},"text":{"field":"text"}}}
]}
